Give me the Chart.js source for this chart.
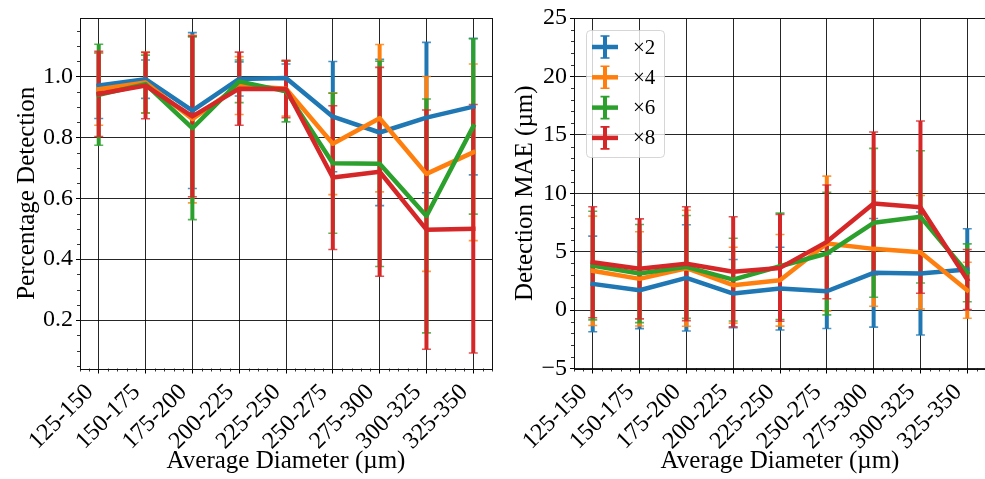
<!DOCTYPE html>
<html><head><meta charset="utf-8">
<script src="https://cdn.jsdelivr.net/npm/chart.js@4/dist/chart.umd.min.js"></script>
<style>
html,body{margin:0;padding:0;background:#fff;overflow:hidden;width:985px;height:479px}
canvas{position:absolute;top:0}
#c1{left:0}
#c2{left:494px}
</style></head><body>
<canvas id="c1" width="500" height="479"></canvas>
<canvas id="c2" width="500" height="479"></canvas>
<script>
// ---------- data ----------
const categories = ['125-150','150-175','175-200','200-225','225-250','250-275','275-300','300-325','325-350'];
const seriesLabels = ['\u00d72','\u00d74','\u00d76','\u00d78'];
const seriesColors = ['#1f77b4','#ff7f0e','#2ca02c','#d62728'];

// Percentage detection (left panel): means and symmetric errors
const detX2  = [0.970, 0.991, 0.888, 0.992, 0.995, 0.868, 0.816, 0.865, 0.901];
const detX2Err = [0.108, 0.063, 0.256, 0.056, 0.046, 0.181, 0.240, 0.247, 0.224];
const detX4  = [0.958, 0.980, 0.860, 0.970, 0.960, 0.779, 0.863, 0.680, 0.751];
const detX4Err = [0.118, 0.100, 0.275, 0.095, 0.090, 0.167, 0.242, 0.320, 0.290];
const detX6  = [0.940, 0.975, 0.830, 0.984, 0.951, 0.715, 0.713, 0.542, 0.836];
const detX6Err = [0.166, 0.095, 0.300, 0.070, 0.100, 0.230, 0.337, 0.384, 0.288];
const detX8  = [0.943, 0.970, 0.869, 0.960, 0.959, 0.668, 0.687, 0.497, 0.500];
const detX8Err = [0.140, 0.109, 0.264, 0.120, 0.094, 0.236, 0.343, 0.393, 0.408];

// Detection MAE in µm (right panel)
const maeX2  = [2.24, 1.70, 2.76, 1.41, 1.84, 1.61, 3.19, 3.13, 3.47];
const maeX2Err = [4.09, 3.29, 4.55, 2.92, 3.54, 3.19, 4.65, 5.26, 3.49];
const maeX4  = [3.36, 2.67, 3.58, 2.13, 2.55, 5.70, 5.24, 4.95, 1.70];
const maeX4Err = [4.68, 4.03, 4.97, 3.25, 3.92, 5.77, 4.91, 4.86, 2.40];
const maeX6  = [3.81, 3.13, 3.70, 2.61, 3.75, 4.84, 7.47, 7.98, 3.19];
const maeX6Err = [4.65, 4.20, 4.40, 3.54, 4.55, 5.25, 6.37, 5.66, 2.48];
const maeX8  = [4.09, 3.53, 3.97, 3.28, 3.61, 5.84, 9.13, 8.81, 2.61];
const maeX8Err = [4.75, 4.28, 4.87, 4.71, 4.57, 4.87, 6.11, 7.37, 2.57];

const detTicks = [0.2, 0.4, 0.6, 0.8, 1.0];
const maeTicks = [-5, 0, 5, 10, 15, 20, 25];

// ---------- styling ----------
const FONT = "'Liberation Serif','Times New Roman',serif";
Chart.defaults.font.family = FONT;
Chart.defaults.color = '#000';

function buildDatasets(means, errs) {
  return means.map((m, s) => ({
    label: seriesLabels[s],
    data: m.map((v, i) => ({x: i, y: v})),
    errors: errs[s],
    borderColor: seriesColors[s],
    backgroundColor: seriesColors[s],
    borderWidth: 4.5,
    pointRadius: 0,
    pointHoverRadius: 0,
    tension: 0,
    fill: false,
    borderJoinStyle: 'round',
    borderCapStyle: 'square',
    order: 3 - s
  }));
}

// error bars drawn below all lines (matplotlib default zorder)
const errorBarPlugin = {
  id: 'errbars',
  beforeDatasetsDraw(chart) {
    const ctx = chart.ctx, xs = chart.scales.x, ys = chart.scales.y, ca = chart.chartArea;
    ctx.save();
    ctx.beginPath(); ctx.rect(ca.left, ca.top, ca.right - ca.left, ca.bottom - ca.top); ctx.clip();
    chart.data.datasets.forEach(ds => {
      ds.data.forEach((p, i) => {
        const e = ds.errors[i];
        const x = xs.getPixelForValue(p.x);
        const y1 = ys.getPixelForValue(p.y + e), y2 = ys.getPixelForValue(p.y - e);
        ctx.strokeStyle = ds.borderColor;
        ctx.lineCap = 'butt';
        ctx.lineWidth = 4;
        ctx.beginPath(); ctx.moveTo(x, y1); ctx.lineTo(x, y2); ctx.stroke();
        ctx.lineWidth = 1.6;
        ctx.globalAlpha = 0.8;
        ctx.beginPath();
        ctx.moveTo(x - 4.5, y1); ctx.lineTo(x + 4.5, y1);
        ctx.moveTo(x - 4.5, y2); ctx.lineTo(x + 4.5, y2);
        ctx.stroke();
        ctx.globalAlpha = 1;
      });
    });
    ctx.restore();
  }
};

// frame + minor ticks + optional legend
const decoPlugin = {
  id: 'deco',
  afterDraw(chart, args, opts) {
    const ctx = chart.ctx, ca = chart.chartArea, xs = chart.scales.x, ys = chart.scales.y;
    ctx.save();
    // minor ticks
    ctx.strokeStyle = '#000'; ctx.lineWidth = 0.8;
    ctx.beginPath();
    for (let k = Math.ceil(xs.min / 0.2); k <= Math.floor(xs.max / 0.2); k++) {
      if (k % 5 === 0) continue;
      const x = Math.round(xs.getPixelForValue(k * 0.2)) + 0.5;
      ctx.moveTo(x, ca.bottom); ctx.lineTo(x, ca.bottom + 3);
    }
    const ms = opts.yMinor, mj = opts.yMajorEvery;
    for (let k = Math.ceil(ys.min / ms); k <= Math.floor(ys.max / ms); k++) {
      if (k % mj === 0) continue;
      const y = Math.round(ys.getPixelForValue(k * ms)) + 0.5;
      ctx.moveTo(ca.left, y); ctx.lineTo(ca.left - 3, y);
    }
    ctx.stroke();
    // frame
    ctx.strokeStyle = '#111'; ctx.lineWidth = 1;
    ctx.strokeRect(Math.round(ca.left) + 0.5, Math.round(ca.top) + 0.5,
                   Math.round(ca.right - ca.left), Math.round(ca.bottom - ca.top));
    // legend
    if (opts.legend) {
      const lx = ca.left + 12, ly = ca.top + 12, w = 78, h = 127, r = 4;
      ctx.fillStyle = 'rgba(255,255,255,0.8)';
      ctx.strokeStyle = 'rgba(204,204,204,0.8)';
      ctx.lineWidth = 1;
      ctx.beginPath();
      ctx.roundRect(lx + 0.5, ly + 0.5, w, h, r);
      ctx.fill(); ctx.stroke();
      chart.data.datasets.forEach((ds, s) => {
        const cy = ly + 17 + s * 30.3, cx = lx + 19;
        ctx.strokeStyle = ds.borderColor;
        ctx.lineCap = 'butt';
        ctx.lineWidth = 4.5;
        ctx.beginPath(); ctx.moveTo(cx - 13, cy); ctx.lineTo(cx + 13, cy); ctx.stroke();
        ctx.lineWidth = 4;
        ctx.beginPath(); ctx.moveTo(cx, cy - 11); ctx.lineTo(cx, cy + 11); ctx.stroke();
        ctx.lineWidth = 1.6;
        ctx.beginPath(); ctx.moveTo(cx - 4.5, cy - 11); ctx.lineTo(cx + 4.5, cy - 11);
        ctx.moveTo(cx - 4.5, cy + 11); ctx.lineTo(cx + 4.5, cy + 11); ctx.stroke();
        ctx.fillStyle = '#000';
        ctx.font = "21px " + FONT;
        ctx.textAlign = 'left'; ctx.textBaseline = 'middle';
        ctx.fillText(ds.label, lx + 47, cy + 1);
      });
    }
    ctx.restore();
  }
};

function makeChart(id, datasets, yMin, yMax, yTicks, yFmt, yTitle, yTitlePad, deco) {
  return new Chart(document.getElementById(id), {
    type: 'line',
    data: { datasets },
    plugins: [errorBarPlugin, decoPlugin],
    options: {
      responsive: false,
      animation: false,
      devicePixelRatio: 1,
      layout: { padding: { left: 0, right: 8, top: 18, bottom: 0 } },
      plugins: { legend: { display: false }, tooltip: { enabled: false }, deco },
      scales: {
        x: {
          type: 'linear', position: 'bottom', min: -0.4, max: 8.4,
          afterBuildTicks: sc => { sc.ticks = categories.map((c, i) => ({ value: i })); },
          afterFit: sc => { sc.height = 110.5; },
          ticks: {
            autoSkip: false, minRotation: 45, maxRotation: 45, padding: 5, labelOffset: -9,
            color: '#000', font: { size: 24 },
            callback: v => categories[v]
          },
          grid: { color: 'rgba(0,0,0,0.85)', lineWidth: 1, drawTicks: true, tickLength: 5, tickColor: '#000', tickWidth: 1 },
          border: { display: false },
          title: { display: true, text: 'Average Diameter (\u00b5m)', font: { size: 25 }, color: '#000', padding: { top: 0, bottom: 3 } }
        },
        y: {
          type: 'linear', min: yMin, max: yMax,
          afterBuildTicks: sc => { sc.ticks = yTicks.map(v => ({ value: v })); },
          afterFit: sc => { sc.width = 80; },
          ticks: { color: '#000', font: { size: 24 }, padding: 3, callback: yFmt },
          grid: { color: 'rgba(0,0,0,0.85)', lineWidth: 1, drawTicks: true, tickLength: 4, tickColor: '#000', tickWidth: 1 },
          border: { display: false },
          title: { display: true, text: yTitle, font: { size: 25 }, color: '#000', padding: { top: yTitlePad, bottom: 0 } }
        }
      }
    }
  });
}

makeChart('c1',
  buildDatasets([detX2, detX4, detX6, detX8], [detX2Err, detX4Err, detX6Err, detX8Err]),
  0.041, 1.192, detTicks, v => v.toFixed(1), 'Percentage Detection', 12,
  { yMinor: 0.05, yMajorEvery: 4, legend: false });

makeChart('c2',
  buildDatasets([maeX2, maeX4, maeX6, maeX8], [maeX2Err, maeX4Err, maeX6Err, maeX8Err]),
  -5, 25, maeTicks, v => (v < 0 ? '\u2212' + Math.abs(v) : String(v)), 'Detection MAE (\u00b5m)', 16,
  { yMinor: 1, yMajorEvery: 5, legend: true });
</script>
</body></html>
